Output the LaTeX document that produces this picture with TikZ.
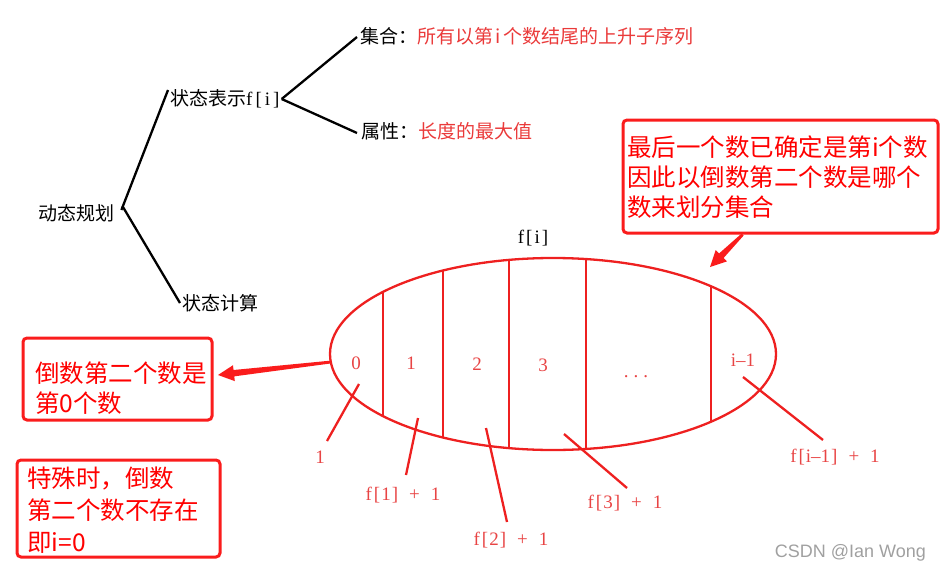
\documentclass[tikz,border=0pt]{standalone}
\usepackage{fontspec}
\setmainfont{Liberation Serif}
\setsansfont{Liberation Sans}
\newfontfamily\cjk{Noto Sans CJK SC}
\usetikzlibrary{calc,shapes.geometric,arrows.meta}
\definecolor{boxred}{RGB}{250,28,28}
\definecolor{notered}{RGB}{234,58,58}
\definecolor{ellred}{RGB}{238,32,32}
\definecolor{labred}{RGB}{232,68,68}
\definecolor{wmgray}{RGB}{160,160,160}
\newcommand\flab[1]{f\kern2pt[\kern1pt#1\kern1pt]\hspace{11pt}+\hspace{11pt}1}
\newcommand\taparrow[3]{%
  \coordinate (#3h) at ($(#2)!16pt!(#1)$);
  \fill[boxred] ($(#1)!1.4pt!90:(#2)$) -- ($(#3h)!3.2pt!90:(#2)$) -- ($(#3h)!8pt!90:(#2)$) -- (#2)
     -- ($(#3h)!8pt!-90:(#2)$) -- ($(#3h)!3.2pt!-90:(#2)$) -- ($(#1)!1.4pt!-90:(#2)$) -- cycle;}
\begin{document}
\begin{tikzpicture}[x=1pt,y=-1pt,
  treetext/.style={inner sep=2pt, anchor=west, font=\cjk\fontsize{19}{22}\selectfont},
  treeline/.style={line width=2.3pt, black},
  boxframe/.style={draw=boxred, line width=3pt, rounded corners=4pt, inner sep=0pt},
  boxtext/.style={inner sep=0pt, anchor=west, align=left, text=red, font=\cjk\fontsize{24.5}{30}\selectfont},
  elllab/.style={inner sep=1pt, text=labred, font=\fontsize{19}{22}\selectfont},
  divider/.style={ellred, line width=2.3pt},
  pointer/.style={ellred, line width=2.3pt},
]
\useasboundingbox (0,0) rectangle (941,575);

% ---- tree ----
\node[treetext] (dp) at (36,213) {动态规划};
\node[treetext] (repr) at (168,99) {状态表示{\rmfamily f\kern3pt[\kern3pt i\kern3pt]}};
\node[treetext] (calc) at (180,303) {状态计算};
\node[treetext] (set) at (358,36) {集合：\textcolor{notered}{所有以第\kern2.5pt i\kern2.5pt 个数结尾的上升子序列}};
\node[treetext] (attr) at (359,131) {属性：\textcolor{notered}{长度的最大值}};

\draw[treeline] ([shift={(5pt,3pt)}]dp.east) -- ([shift={(0pt,9pt)}]repr.west);
\draw[treeline] ([shift={(6pt,7pt)}]dp.east) -- (calc.west);
\draw[treeline] (repr.east) -- ([shift={(-1pt,-1pt)}]set.west);
\draw[treeline] (repr.east) -- ([shift={(-2pt,-2pt)}]attr.west);

% ---- ellipse ----
\node[elllab, text=black] (fi) at (533,238) {f\kern2pt[\kern2pt i\kern2pt]};
\node[draw=ellred, line width=2.3pt, ellipse, minimum width=446pt, minimum height=192pt, inner sep=0pt] (ell) at (553,354) {};
\begin{scope}
  \clip (553,354) ellipse [x radius=223pt, y radius=96pt];
  \foreach \xx in {383,443,509,586,711}
    \draw[divider] (\xx,250) -- (\xx,460);
\end{scope}

\node[elllab] (l0) at (356,363) {0};
\node[elllab] (l1) at (411,363) {1};
\node[elllab] (l2) at (477,364) {2};
\node[elllab] (l3) at (543,365) {3};
\node[elllab, anchor=base] (ldots) at (636,377) {.\hspace{5pt}.\hspace{5pt}.};
\node[elllab] (li) at (743,360) {i--1};

\node[elllab] (o0) at (320,457) {1};
\node[elllab] (o1) at (403,495) {\flab{1}};
\node[elllab] (o2) at (511,540) {\flab{2}};
\node[elllab] (o3) at (625,503) {\flab{3}};
\node[elllab] (oi) at (835,457) {\flab{i--1}};

\coordinate (p0s) at (359,384); \coordinate (p0e) at (327,441);
\coordinate (p1s) at (418,418); \coordinate (p1e) at (406,475);
\coordinate (p2s) at (486,428); \coordinate (p2e) at (507,522);
\coordinate (p3s) at (564,434); \coordinate (p3e) at (627,488);
\coordinate (pis) at (743,377); \coordinate (pie) at (823,440);
\draw[pointer] (p0s) -- (p0e);
\draw[pointer] (p1s) -- (p1e);
\draw[pointer] (p2s) -- (p2e);
\draw[pointer] (p3s) -- (p3e);
\draw[pointer] (pis) -- (pie);

% ---- callout boxes ----
\node[boxframe, minimum width=315pt, minimum height=113pt] (callout) at (780.5,176.5) {};
\node[boxtext] (callouttxt) at (627,177) {最后一个数已确定是第i个数\\因此以倒数第二个数是哪个\\数来划分集合};

\node[boxframe, minimum width=189pt, minimum height=82pt] (box1) at (117.5,379) {};
\node[boxtext] (box1txt) at (35,388) {倒数第二个数是\\第0个数};

\node[boxframe, minimum width=203pt, minimum height=97pt] (box2) at (118.5,508.5) {};
\node[boxtext, font=\cjk\fontsize{24.5}{32}\selectfont] (box2txt) at (27,510) {特殊时，倒数\\第二个数不存在\\即i=0};

% ---- arrows ----
\coordinate (a1s) at ($(callout.south west)!0.381!(callout.south east)$);
\coordinate (a1t) at (710,267);
\taparrow{a1s}{a1t}{a1}
\coordinate (a2s) at (331,362);
\coordinate (a2t) at (218,375);
\taparrow{a2s}{a2t}{a2}

% ---- watermark ----
\node[inner sep=0pt, anchor=east, text=wmgray, font=\sffamily\fontsize{18}{20}\selectfont] (wm) at (926,553) {CSDN @Ian Wong};
\end{tikzpicture}
\end{document}
